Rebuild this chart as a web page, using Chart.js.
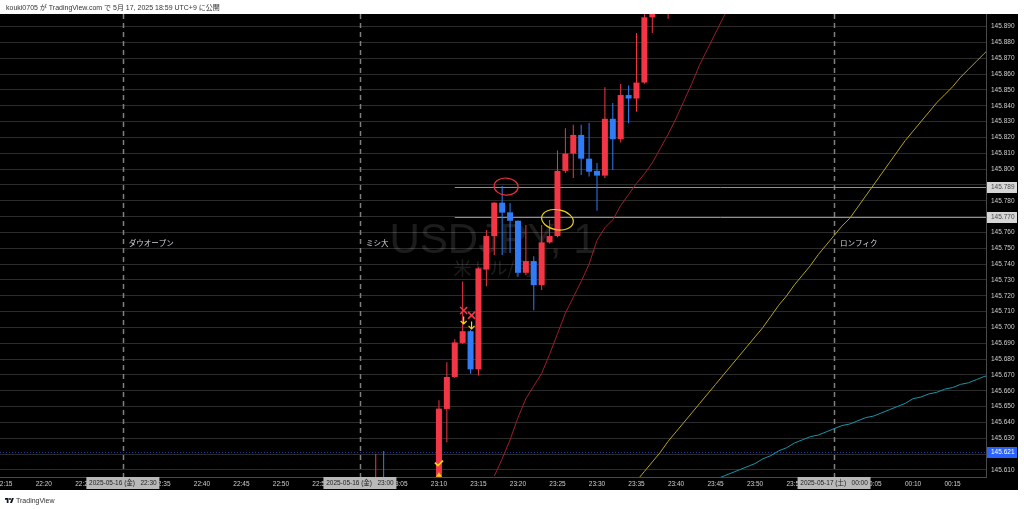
<!DOCTYPE html>
<html lang="ja">
<head>
<meta charset="utf-8">
<title>USDJPY 1分足</title>
<script src="https://cdn.jsdelivr.net/npm/chart.js@4.4.1/dist/chart.umd.min.js"></script>
<style>
  html, body { margin: 0; padding: 0; background: #fff; }
  #wrap { position: relative; width: 1024px; height: 509px; overflow: hidden; }
  #chart { position: absolute; left: 0; top: 0; }
  #header { position: absolute; left: 6px; top: 2px; font: 7px "Liberation Sans", "Noto Sans CJK JP", sans-serif; color: #333; white-space: nowrap; }
  #footer { position: absolute; left: 5px; top: 497px; font: 7px "Liberation Sans", sans-serif; color: #333; white-space: nowrap; }
  #footer svg { vertical-align: -1px; margin-right: 2px; }
</style>
</head>
<body>
<div id="wrap">
  <canvas id="chart" width="1024" height="509"></canvas>
  <div id="header">kouki0705 が TradingView.com で 5月 17, 2025 18:59 UTC+9 に公開</div>
  <div id="footer"><svg width="9" height="7" viewBox="0 0 36 28"><path d="M14 24H7V11H0V4h14v20z" fill="#131722"/><circle cx="20" cy="8" r="4" fill="#131722"/><path d="M28 24h-8l7.5-20h8L28 24z" fill="#131722"/></svg>TradingView</div>
</div>
<script>
// 1分足 (USDJPY)
const candleTimes = ['23:02', '23:03', '23:10', '23:11', '23:12', '23:13', '23:14', '23:15', '23:16', '23:17',
  '23:18', '23:19', '23:20', '23:21', '23:22', '23:23', '23:24', '23:25', '23:26', '23:27', '23:28', '23:29',
  '23:30', '23:31', '23:32', '23:33', '23:34', '23:35', '23:36', '23:37', '23:38', '23:39'];
const opens  = [145.598, 145.603, 145.597, 145.6485, 145.6687, 145.6902, 145.6976, 145.6735, 145.7366, 145.7577,
  145.7788, 145.7727, 145.7674, 145.7345, 145.7419, 145.7267, 145.7537, 145.7577, 145.7989, 145.8098, 145.8216, 145.8066,
  145.7989, 145.7959, 145.8318, 145.8189, 145.8468, 145.8446, 145.8547, 145.8959, 145.899, 145.907];
const highs  = [145.620, 145.622, 145.654, 145.678, 145.6925, 145.729, 145.6985, 145.738, 145.7615, 145.779,
  145.7894, 145.7786, 145.7675, 145.7647, 145.745, 145.7647, 145.7678, 145.8117, 145.8259, 145.828, 145.828, 145.8292,
  145.8039, 145.8518, 145.8417, 145.8537, 145.8528, 145.886, 145.899, 145.905, 145.912, 145.912];
const lows   = [145.592, 145.590, 145.594, 145.6275, 145.668, 145.6895, 145.6708, 145.6697, 145.726, 145.7457,
  145.7457, 145.747, 145.732, 145.733, 145.7109, 145.7236, 145.753, 145.757, 145.7976, 145.7944, 145.7963, 145.7953,
  145.7737, 145.7944, 145.7995, 145.8168, 145.829, 145.8363, 145.854, 145.886, 145.899, 145.895];
const closes = [145.603, 145.596, 145.6487, 145.6687, 145.6905, 145.6976, 145.6735, 145.7373, 145.7577, 145.7788,
  145.7725, 145.7674, 145.7345, 145.7419, 145.7267, 145.7537, 145.7577, 145.7989, 145.8098, 145.8216, 145.8066, 145.7984,
  145.7959, 145.8318, 145.8189, 145.8468, 145.8446, 145.8547, 145.8959, 145.899, 145.907, 145.909];

// 移動平均 (開始時刻から1分ごと)
const redMaStart = '23:17';
const redMaValues = [145.606, 145.617, 145.629, 145.643, 145.655, 145.663, 145.671, 145.683, 145.696, 145.709,
  145.719, 145.729, 145.740, 145.755, 145.763, 145.768, 145.777, 145.784, 145.791, 145.797,
  145.804, 145.813, 145.822, 145.832, 145.843, 145.854, 145.866, 145.876, 145.886, 145.896, 145.905];
const yellowMaStart = '23:35';
const yellowMaValues = [145.603, 145.609, 145.615, 145.621, 145.628, 145.634, 145.640, 145.646, 145.652, 145.658,
  145.664, 145.670, 145.676, 145.682, 145.688, 145.694, 145.700, 145.707, 145.714, 145.720,
  145.727, 145.733, 145.739, 145.746, 145.752, 145.758, 145.764, 145.769, 145.776, 145.783,
  145.790, 145.797, 145.804, 145.811, 145.818, 145.824, 145.830, 145.836, 145.842, 145.847,
  145.852, 145.858, 145.863, 145.868, 145.873, 145.878];
const cyanMaStart = '23:45';
const cyanMaValues = [145.604, 145.606, 145.608, 145.610, 145.612, 145.614, 145.617, 145.619, 145.622, 145.624,
  145.627, 145.629, 145.631, 145.632, 145.634, 145.636, 145.638, 145.639, 145.641, 145.643,
  145.644, 145.646, 145.648, 145.650, 145.652, 145.655, 145.656, 145.658, 145.659, 145.661,
  145.662, 145.664, 145.665, 145.667, 145.669, 145.670];

// 時間帯ライン
const sessionTimes = ['22:30', '23:00', '00:00'];
const sessionNames = ['ダウオープン', 'ミシ大', 'ロンフィク'];
const sessionDates = ['2025-05-16 (金)', '2025-05-16 (金)', '2025-05-17 (土)'];
const sessionLabelPrice = 145.7525;

// 水平線
const levelPrices = [145.789, 145.770];
const levelStart = '23:12';
const markPrice = 145.621;

const watermark = ['USDJPY, 1', '米ドル/円'];

const X_MIN = 14.45, X_MAX = 139.23;
const Y_MIN = 145.6055, Y_MAX = 145.8980;

const UP = '#f23645', DOWN = '#2f7cf6';
const FONT = '"Liberation Sans", "Noto Sans CJK JP", sans-serif';

function toMin(s) {
  const [h, m] = s.split(':').map(Number);
  return (h < 12 ? h + 24 : h) * 60 + m - 22 * 60;
}
function fmtMin(v) {
  const t = 22 * 60 + Math.round(v);
  return String(Math.floor(t / 60) % 24).padStart(2, '0') + ':' + String(t % 60).padStart(2, '0');
}
function maPoints(start, values) {
  const m0 = toMin(start);
  return values.map((v, i) => ({ x: m0 + i, y: v }));
}

const candleColors = opens.map((o, i) => closes[i] >= o ? UP : DOWN);
const bodyData = candleTimes.map((t, i) => ({ x: toMin(t), y: [opens[i], closes[i]] }));
const wickData = candleTimes.map((t, i) => ({ x: toMin(t), y: [lows[i], highs[i]] }));

const decor = {
  id: 'decor',
  beforeDraw(c) {
    const g = c.ctx;
    g.save();
    g.fillStyle = '#ffffff';
    g.fillRect(0, 0, c.width, c.height);
    g.fillStyle = '#000000';
    g.fillRect(0, 14, 1018, 476);
    g.restore();
  },
  beforeDatasetsDraw(c) {
    const { ctx: g, chartArea: a, scales: { x, y } } = c;
    g.save();
    g.beginPath();
    g.rect(a.left, a.top, a.right - a.left, a.bottom - a.top);
    g.clip();

    const cx = (a.left + a.right) / 2;
    g.fillStyle = 'rgba(255,255,255,0.11)';
    g.textAlign = 'center';
    g.textBaseline = 'alphabetic';
    g.font = '42px ' + FONT;
    g.fillText(watermark[0], cx, 253);
    g.font = '18px "Noto Sans CJK JP", sans-serif';
    g.fillText(watermark[1], cx, 275);

    // 時間帯の縦線
    g.strokeStyle = '#808080';
    g.lineWidth = 1.5;
    g.setLineDash([5, 4]);
    sessionTimes.forEach(t => {
      const px = Math.round(x.getPixelForValue(toMin(t))) + 0.5;
      g.beginPath(); g.moveTo(px, a.top); g.lineTo(px, a.bottom); g.stroke();
    });
    g.setLineDash([]);
    g.lineWidth = 1;
    g.fillStyle = '#d1d4dc';
    g.textAlign = 'left';
    g.textBaseline = 'middle';
    g.font = '7.5px ' + FONT;
    sessionTimes.forEach((t, i) => {
      g.fillText(sessionNames[i], x.getPixelForValue(toMin(t)) + 6, y.getPixelForValue(sessionLabelPrice));
    });

    // 水平線
    g.strokeStyle = '#8f8f8f';
    levelPrices.forEach(p => {
      const py = Math.round(y.getPixelForValue(p)) + 0.5;
      g.beginPath(); g.moveTo(x.getPixelForValue(toMin(levelStart)), py); g.lineTo(a.right, py); g.stroke();
    });
    g.strokeStyle = 'rgba(41,98,255,0.6)';
    g.setLineDash([1, 2]);
    const my = Math.round(y.getPixelForValue(markPrice)) + 0.5;
    g.beginPath(); g.moveTo(a.left, my); g.lineTo(a.right, my); g.stroke();
    g.restore();
  },
  afterDraw(c) {
    const { ctx: g, chartArea: a, scales: { x, y } } = c;
    const px = m => x.getPixelForValue(m);
    const py = p => y.getPixelForValue(p);
    g.save();
    g.beginPath();
    g.rect(a.left, a.top, a.right - a.left, a.bottom - a.top);
    g.clip();

    // 手書きの丸
    g.lineWidth = 1.2;
    g.strokeStyle = '#e8303f';
    g.beginPath();
    g.ellipse(px(toMin('23:18') + 0.5), py(145.789), 12, 8.5, 0.05, 0, Math.PI * 2);
    g.stroke();
    g.strokeStyle = '#e6cf1f';
    g.beginPath();
    g.ellipse(px(toMin('23:25')), py(145.768), 16, 10, 0.18, 0, Math.PI * 2);
    g.stroke();

    // × と ↓
    const crosses = [[toMin('23:13'), 145.7107], [toMin('23:14'), 145.7076]];
    g.strokeStyle = '#f23645';
    g.lineWidth = 1.6;
    crosses.forEach(([m, p]) => {
      const cx = px(m) + 1, cy = py(p);
      g.beginPath();
      g.moveTo(cx - 3.5, cy - 3.5); g.lineTo(cx + 3.5, cy + 3.5);
      g.moveTo(cx + 3.5, cy - 3.5); g.lineTo(cx - 3.5, cy + 3.5);
      g.stroke();
    });
    g.strokeStyle = '#f5d90a';
    g.lineWidth = 1.2;
    crosses.forEach(([m, p]) => {
      const cx = px(m) + 1, top = py(p) + 6, tip = py(p) + 13.5;
      g.beginPath();
      g.moveTo(cx, top); g.lineTo(cx, tip);
      g.moveTo(cx - 3, tip - 3); g.lineTo(cx, tip); g.lineTo(cx + 3, tip - 3);
      g.stroke();
    });
    // ✓ と ▲
    const cm = px(toMin('23:10'));
    const ck = py(145.614);
    g.lineWidth = 1.8;
    g.beginPath();
    g.moveTo(cm - 4, ck - 1); g.lineTo(cm - 1, ck + 2); g.lineTo(cm + 4, ck - 3);
    g.stroke();
    g.fillStyle = '#f5d90a';
    const tr = py(145.6072);
    g.beginPath();
    g.moveTo(cm - 3, tr + 2.5); g.lineTo(cm, tr - 2); g.lineTo(cm + 3, tr + 2.5); g.closePath();
    g.fill();
    g.restore();

    // 価格軸ラベル
    g.save();
    g.font = '6.5px ' + FONT;
    g.textAlign = 'left';
    g.textBaseline = 'middle';
    const tag = (p, bg, fg) => {
      const yy = Math.round(py(p));
      g.fillStyle = bg;
      g.fillRect(a.right + 1, yy - 5, 30, 11);
      g.fillStyle = fg;
      g.fillText(p.toFixed(3), a.right + 5, yy + 0.5);
    };
    levelPrices.forEach(p => tag(p, '#d6d6d6', '#4a4a4a'));
    tag(markPrice, '#2962ff', '#ffffff');

    // 時間軸の日付ラベル
    g.textAlign = 'center';
    sessionTimes.forEach((t, i) => {
      const xx = px(toMin(t));
      g.fillStyle = '#b9b9b9';
      g.fillRect(xx - 36.5, a.bottom, 73, 12);
      g.fillStyle = '#1e1e1e';
      g.fillText(sessionDates[i] + '   ' + t, xx, a.bottom + 6.5);
    });
    g.restore();
  }
};

new Chart(document.getElementById('chart'), {
  type: 'bar',
  data: {
    datasets: [
      { type: 'line', label: 'MA赤', data: maPoints(redMaStart, redMaValues), borderColor: '#9c1e2c',
        borderWidth: 1, pointRadius: 0, tension: 0, order: 3 },
      { type: 'line', label: 'MA黄', data: maPoints(yellowMaStart, yellowMaValues), borderColor: '#b5a41c',
        borderWidth: 1, pointRadius: 0, tension: 0, order: 3 },
      { type: 'line', label: 'MA青緑', data: maPoints(cyanMaStart, cyanMaValues), borderColor: '#1696a8',
        borderWidth: 1, pointRadius: 0, tension: 0, order: 3 },
      { label: 'ヒゲ', data: wickData, backgroundColor: candleColors, barThickness: 1, grouped: false,
        inflateAmount: 0, order: 2 },
      { label: '実体', data: bodyData, backgroundColor: candleColors, barThickness: 6, grouped: false,
        inflateAmount: 0, minBarLength: 1, order: 1 }
    ]
  },
  options: {
    responsive: false,
    animation: false,
    events: [],
    layout: { padding: { top: 14, right: 6, bottom: 19, left: 0 } },
    plugins: { legend: { display: false }, tooltip: { enabled: false } },
    scales: {
      x: {
        type: 'linear', min: X_MIN, max: X_MAX, offset: false,
        grid: { display: false, offset: false, drawTicks: false },
        border: { display: true, color: '#4a4a4a' },
        ticks: { stepSize: 5, includeBounds: false, autoSkip: false, maxRotation: 0, color: '#cfcfcf',
          font: { size: 6.5, family: FONT }, padding: 3, callback: v => fmtMin(v) },
        afterFit(s) { s.height = 13; s.paddingLeft = 0; s.paddingRight = 0; }
      },
      y: {
        position: 'right', min: Y_MIN, max: Y_MAX, beginAtZero: false,
        grid: { color: '#2c2c2c', drawTicks: false },
        border: { display: true, color: '#4a4a4a' },
        ticks: { stepSize: 0.01, includeBounds: false, color: '#cfcfcf',
          font: { size: 6.5, family: FONT }, padding: 5, callback: v => v.toFixed(3) },
        afterFit(s) { s.width = 32; s.paddingTop = 0; s.paddingBottom = 0; }
      }
    }
  },
  plugins: [decor]
});
</script>
</body>
</html>
